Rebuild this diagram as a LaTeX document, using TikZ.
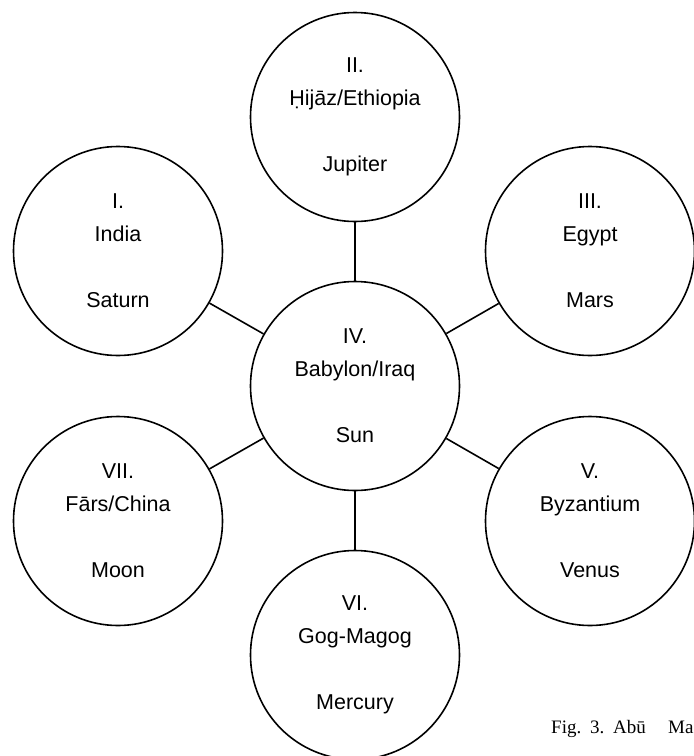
\documentclass[tikz,border=0pt]{standalone}
\usepackage{fontspec}
\setsansfont{Liberation Sans}
\newfontfamily\capfont{Liberation Serif}
\begin{document}
\begin{tikzpicture}[x=1pt,y=-1pt,
  place/.style={circle, draw, line width=1.6pt, minimum size=209pt, inner sep=0pt,
    align=center, font=\sffamily\fontsize{21.5}{33}\selectfont},
  link/.style={line width=1.6pt},
  capword/.style={anchor=base west, inner sep=0pt, font=\capfont\fontsize{19}{22}\selectfont}]
\useasboundingbox (0,0) rectangle (694,756);
\node[place] (c)   at (355,386) {IV.\\Babylon/Iraq\\[33pt]Sun};
\node[place] (ii)  at (355,117) {II.\\Ḥijāz/Ethiopia\\[33pt]Jupiter};
\node[place] (i)   at (118,251) {I.\\India\\[33pt]Saturn};
\node[place] (iii) at (590,251) {III.\\Egypt\\[33pt]Mars};
\node[place] (vii) at (118,521) {VII.\\Fārs/China\\[33pt]Moon};
\node[place] (v)   at (590,521) {V.\\Byzantium\\[33pt]Venus};
\node[place] (vi)  at (355,655) {VI.\\Gog-Magog\\[33pt]Mercury};
\foreach \o in {ii,i,iii,vii,v,vi} \draw[link] (c) -- (\o);
\node[capword] (f1) at (551,733) {Fig.};
\node[capword] (f2) at (590,733) {3.};
\node[capword] (f3) at (613,733) {Abū};
\node[capword] (f4) at (668,733) {Ma};
\end{tikzpicture}
\end{document}
